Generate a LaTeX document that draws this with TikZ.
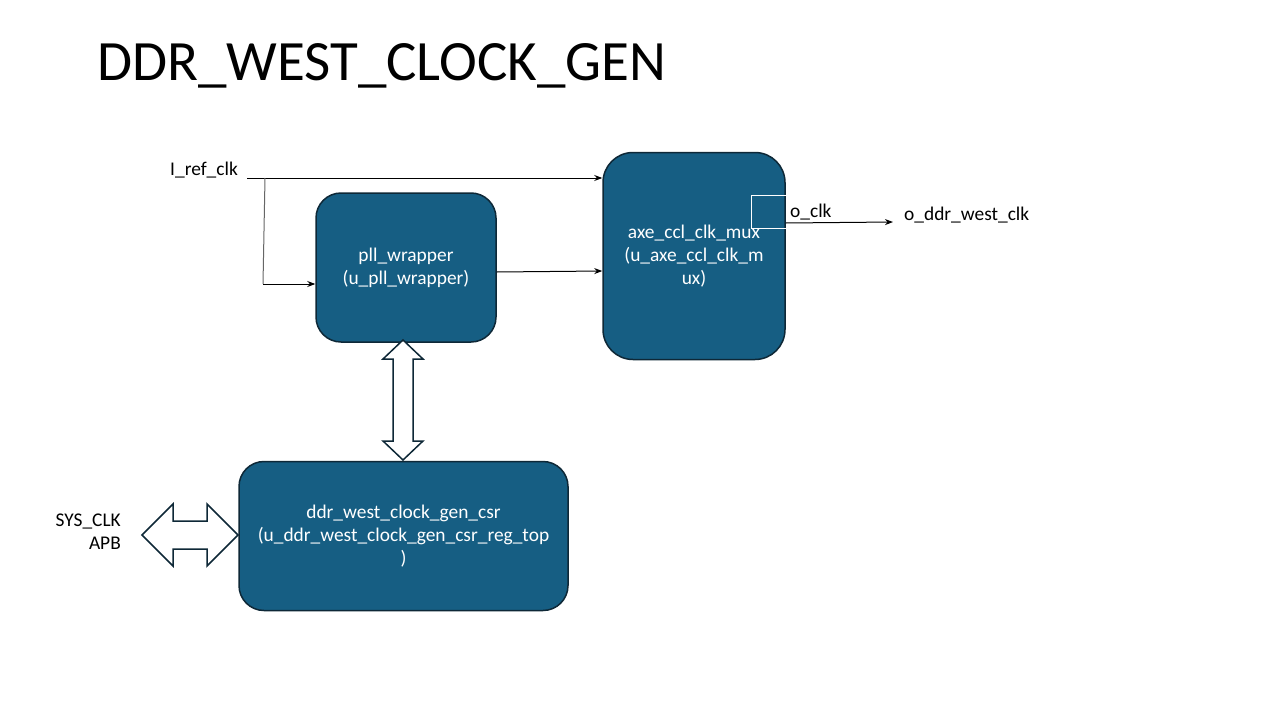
\documentclass[tikz,border=0pt]{standalone}
\usepackage{fontspec}
\setmainfont{Carlito}
\usetikzlibrary{arrows.meta}
\definecolor{boxfill}{RGB}{22,94,131}
\definecolor{boxline}{RGB}{14,40,55}
\begin{document}
\begin{tikzpicture}[x=1pt,y=-1pt,
  blk/.style={draw=boxline,line width=1.5pt,fill=boxfill,rounded corners=#1,text=white,align=center,font=\fontsize{19.4}{23}\selectfont,inner sep=0pt},
  lbl/.style={font=\fontsize{19.4}{23}\selectfont,inner sep=0pt},
  wire/.style={line width=1pt,-{Stealth[length=8pt,width=6pt]}},
  barrow/.style={draw=boxline,line width=1.5pt,fill=white,line join=miter}]
\path[use as bounding box,fill=white] (0,0) rectangle (1280,720);
\node[anchor=base west,font=\fontsize{57}{60}\selectfont,inner sep=0pt] (title) at (97,80) {DDR\_WEST\_CLOCK\_GEN};
% boxes
\node[blk=25pt,minimum width=180pt,minimum height=149pt] (pll) at (406,267.5) {pll\_wrapper\\(u\_pll\_wrapper)};
\node[blk=30pt,minimum width=182pt,minimum height=207pt] (mux) at (694,256) {axe\_ccl\_clk\_mux\\(u\_axe\_ccl\_clk\_m\\ux)};
\node[blk=25pt,minimum width=329pt,minimum height=149pt] (csr) at (403.5,536) {ddr\_west\_clock\_gen\_csr\\(u\_ddr\_west\_clock\_gen\_csr\_reg\_top\\)};
% labels
\node[lbl,anchor=west] (iref) at (170,170) {I\_ref\_clk};
\node[lbl,anchor=west] (oclk) at (790,212) {o\_clk};
\node[lbl,anchor=west] (oddr) at (904,215) {o\_ddr\_west\_clk};
\node[lbl,anchor=east,align=right] (sys) at (121,532) {SYS\_CLK\\APB};
% wires
\coordinate (s) at (247,178);
\coordinate (j) at (265,178);
\coordinate (k) at (263,284);
\draw[wire] (s) -- (s -| mux.west);
\draw[line width=1pt,draw=black!60] (j) -- (k);
\draw[wire] (k) -- (k -| pll.west);
\draw[wire] (pll.east |- 0,272) -- (mux.west |- 0,271);
% o_clk port square
\draw[white,line width=1pt] (mux.east |- 0,195) -- (751,195) -- (751,228) -- (mux.east |- 0,228);
\coordinate (oend) at (893,222);
\draw[wire] (mux.east |- 0,223) -- (oend);
% block arrows
\draw[barrow] (403,340) -- (423,359) -- (413,359) -- (413,441) -- (423,441) -- (403,460) -- (383,441) -- (393,441) -- (393,359) -- (383,359) -- cycle;
\draw[barrow] (142,535) -- (173,504) -- (173,521) -- (207,521) -- (207,504) -- (238,535) -- (207,566) -- (207,549) -- (173,549) -- (173,566) -- cycle;
\end{tikzpicture}
\end{document}
